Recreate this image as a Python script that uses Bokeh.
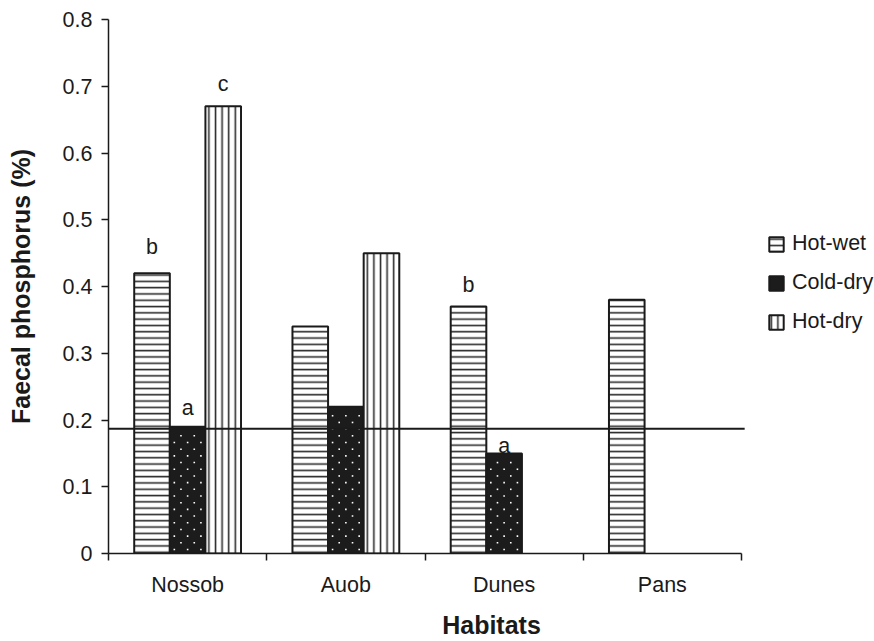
import numpy as np
from bokeh.plotting import figure
from bokeh.models import Range1d, FixedTicker, ColumnDataSource
from bokeh.core.properties import value
from bokeh.embed import file_html
from bokeh.resources import INLINE

# ---- data ----
habitats = ["Nossob", "Auob", "Dunes", "Pans"]
seasons = ["Hot-wet", "Cold-dry", "Hot-dry"]
hot_wet = [0.42, 0.34, 0.37, 0.38]
cold_dry = [0.19, 0.22, 0.15, None]
hot_dry = [0.67, 0.45, None, None]
reference_level = 0.187

sig_habitat = ["Nossob", "Nossob", "Nossob", "Dunes", "Dunes"]
sig_season = ["Hot-wet", "Cold-dry", "Hot-dry", "Hot-wet", "Cold-dry"]
sig_letter = ["b", "a", "c", "b", "a"]
sig_y = [0.459, 0.218, 0.704, 0.402, 0.161]

y_ticks = [0, 0.1, 0.2, 0.3, 0.4, 0.5, 0.6, 0.7, 0.8]
y_tick_labels = ["0", "0.1", "0.2", "0.3", "0.4", "0.5", "0.6", "0.7", "0.8"]

FONT = "Liberation Sans"
FS = "21.5px"
TFS = "25px"
BAR_W = 0.225
TXT = "#1a1a1a"
W, H = 874, 641
LEFT, TOP = 108, 19
AXIS_PX = 633      # pixel length of the category axis
FRAME_H = 535      # pixel height of the value axis
Y_MAX = 0.8
X_END = len(habitats) * (W - LEFT) / AXIS_PX  # frame continues to the right for the legend

series_values = dict(zip(seasons, [hot_wet, cold_dry, hot_dry]))
series_offset = {s: (j - 1) * BAR_W for j, s in enumerate(seasons)}

p = figure(width=W, height=H, output_backend="svg", toolbar_location=None,
           x_range=Range1d(0, X_END), y_range=Range1d(0, Y_MAX),
           min_border_left=LEFT, min_border_right=0, min_border_top=TOP,
           min_border_bottom=80)
p.outline_line_color = None
p.xgrid.visible = False
p.ygrid.visible = False
p.background_fill_color = "white"
p.border_fill_color = "white"

styles = {
    "Hot-wet": dict(fill_color="white", hatch_pattern="horizontal_line",
                    hatch_color="#2a2a2a", hatch_weight=1.6, hatch_scale=6.3),
    "Cold-dry": dict(fill_color="#1c1c1c"),
    "Hot-dry": dict(fill_color="white", hatch_pattern="vertical_line",
                    hatch_color="#2a2a2a", hatch_weight=1.6, hatch_scale=6.6),
}

for s in seasons:
    xs, tops = [], []
    for i, v in enumerate(series_values[s]):
        if v is None:
            continue
        xs.append(i + 0.5 + series_offset[s])
        tops.append(v)
    src = ColumnDataSource(dict(x=xs, top=tops))
    p.vbar(x="x", top="top", bottom=0, width=BAR_W, source=src,
           line_color="#1a1a1a", line_width=2, legend_label=s, **styles[s])

# staggered white dot texture inside the Cold-dry bars
ux = len(habitats) / AXIS_PX   # x data units per pixel
uy = Y_MAX / FRAME_H           # y data units per pixel
row_step, col_step = 6.7 * uy, 13.3 * ux
dot_x, dot_y = [], []
for i, v in enumerate(cold_dry):
    if v is None:
        continue
    left = i + 0.5 + series_offset["Cold-dry"] - BAR_W / 2
    right = left + BAR_W
    for r, yy in enumerate(np.arange(4 * uy, v - 3 * uy, row_step)):
        start = left + (4.5 * ux if r % 2 == 0 else 4.5 * ux + col_step / 2)
        for xx in np.arange(start, right - 2.5 * ux, col_step):
            dot_x.append(xx)
            dot_y.append(yy)
p.scatter(x=dot_x, y=dot_y, marker="square", size=1.6,
          fill_color="white", line_color=None)

# horizontal reference line across the category axis
p.line(x=[0, len(habitats) + 0.02], y=[reference_level, reference_level],
       line_color="#1a1a1a", line_width=2)

sig_x = [habitats.index(h) + 0.5 + series_offset[s] for h, s in zip(sig_habitat, sig_season)]
p.text(x=sig_x, y=sig_y, text=sig_letter, text_align="center",
       text_baseline="alphabetic", text_font=value(FONT),
       text_font_size=FS, text_color=TXT)

# y axis
ya = p.yaxis[0]
ya.ticker = FixedTicker(ticks=y_ticks, minor_ticks=[])
ya.major_label_overrides = {t: l for t, l in zip(y_ticks, y_tick_labels)}
ya.axis_label = "Faecal phosphorus (%)"
ya.axis_label_text_font = FONT
ya.axis_label_text_font_style = "bold"
ya.axis_label_text_font_size = TFS
ya.axis_label_text_color = TXT
ya.axis_label_standoff = 25
ya.major_label_text_font = FONT
ya.major_label_text_font_size = FS
ya.major_label_text_color = TXT
ya.major_label_standoff = 9
ya.major_tick_in = 0
ya.major_tick_out = 7
ya.major_tick_line_width = 1.5
ya.axis_line_width = 1.5
ya.axis_line_color = "#1a1a1a"
ya.major_tick_line_color = "#1a1a1a"

# x axis: labels at category centres, ticks at category boundaries
xa = p.xaxis[0]
centres = [i + 0.5 for i in range(len(habitats))]
bounds = [i for i in range(len(habitats) + 1)]
xa.bounds = (0, len(habitats))
xa.ticker = FixedTicker(ticks=centres, minor_ticks=bounds)
xa.major_label_overrides = {c: h for c, h in zip(centres, habitats)}
xa.major_tick_line_color = None
xa.major_tick_in = 0
xa.major_tick_out = 0
xa.minor_tick_in = 0
xa.minor_tick_out = 7
xa.minor_tick_line_width = 1.5
xa.minor_tick_line_color = "#1a1a1a"
xa.axis_line_width = 1.5
xa.axis_line_color = "#1a1a1a"
xa.major_label_text_font = FONT
xa.major_label_text_font_size = FS
xa.major_label_text_color = TXT
xa.major_label_standoff = 12
xa.axis_label = "Habitats"
xa.axis_label_text_font = FONT
xa.axis_label_text_font_style = "bold"
xa.axis_label_text_font_size = TFS
xa.axis_label_text_color = TXT
xa.axis_label_standoff = 11

lg = p.legend[0]
lg.location = (659, 219)
lg.border_line_color = None
lg.background_fill_alpha = 0
lg.padding = 0
lg.margin = 0
lg.glyph_width = 18
lg.glyph_height = 18
lg.label_standoff = 7
lg.spacing = 14
lg.label_text_font = FONT
lg.label_text_font_size = FS
lg.label_text_color = TXT

open("out.html", "w").write(file_html(p, INLINE))
